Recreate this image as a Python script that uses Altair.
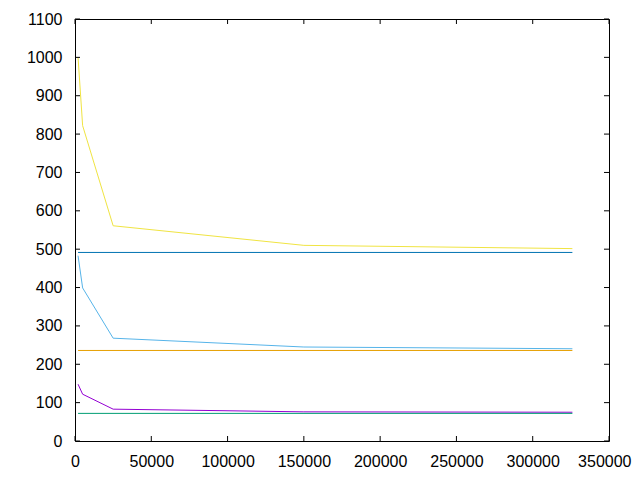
import altair as alt
import pandas as pd

# sample positions (x) shared by the decreasing series
x_pts = [2000, 5000, 25000, 150000, 326000]
purple_vals = [148, 122, 83, 76, 75]
lightblue_vals = [483, 399, 268, 245, 240.5]
yellow_vals = [1000, 822, 561, 510, 501.5]
# constant reference lines
const_x = [2000, 326000]
green_const = 72
orange_const = 236
darkblue_const = 491.5

x_ticks = [0, 50000, 100000, 150000, 200000, 250000, 300000, 350000]
y_ticks = [0, 100, 200, 300, 400, 500, 600, 700, 800, 900, 1000, 1100]

series_names = ["s1", "s2", "s3", "s4", "s5", "s6"]
series_colors = ["#9400d3", "#009e73", "#56b4e9", "#e69f00", "#f0e442", "#0072b2"]

rows = []
for xv, yv in zip(x_pts, purple_vals):
    rows.append({"s": "s1", "o": 1, "x": xv, "y": yv})
for xv in const_x:
    rows.append({"s": "s2", "o": 2, "x": xv, "y": green_const})
for xv, yv in zip(x_pts, lightblue_vals):
    rows.append({"s": "s3", "o": 3, "x": xv, "y": yv})
for xv in const_x:
    rows.append({"s": "s4", "o": 4, "x": xv, "y": orange_const})
for xv, yv in zip(x_pts, yellow_vals):
    rows.append({"s": "s5", "o": 5, "x": xv, "y": yv})
for xv in const_x:
    rows.append({"s": "s6", "o": 6, "x": xv, "y": darkblue_const})
df = pd.DataFrame(rows)

W, H = 534, 422
TL = 5

xscale = alt.Scale(domain=[0, 350000], nice=False, zero=False)
yscale = alt.Scale(domain=[0, 1100], nice=False, zero=False)

font = "Liberation Sans"

x_axis = alt.Axis(values=x_ticks, format="d", ticks=False, domain=False, grid=False,
                  labelFont=font, labelFontSize=16, labelColor="black",
                  labelPadding=12, labelFlush=False, labelOverlap=False,
                  labelAlign={"expr": "datum.value >= 350000 ? 'right' : 'center'"},
                  labelOffset={"expr": "datum.value >= 350000 ? 22 : 0"})
y_axis = alt.Axis(values=y_ticks, format="d", ticks=False, domain=False, grid=False,
                  labelFont=font, labelFontSize=16, labelColor="black",
                  labelPadding=13, labelOverlap=False, labelFlush=False)

lines = alt.Chart(df).mark_line(strokeWidth=1, clip=True).encode(
    x=alt.X("x:Q", scale=xscale, title=None, axis=x_axis),
    y=alt.Y("y:Q", scale=yscale, title=None, axis=y_axis),
    color=alt.Color("s:N", scale=alt.Scale(domain=series_names, range=series_colors), legend=None),
    order=alt.Order("x:Q"),
    detail="o:O",
)

xt = pd.DataFrame({"v": x_ticks})
yt = pd.DataFrame({"v": y_ticks})

xt_bottom = alt.Chart(xt).mark_rule(color="black", strokeWidth=1).encode(
    x=alt.X("v:Q", scale=xscale, title=None, axis=x_axis), y=alt.value(H), y2=alt.value(H - TL))
xt_top = alt.Chart(xt).mark_rule(color="black", strokeWidth=1).encode(
    x=alt.X("v:Q", scale=xscale, title=None, axis=x_axis), y=alt.value(0), y2=alt.value(TL))
yt_left = alt.Chart(yt).mark_rule(color="black", strokeWidth=1).encode(
    y=alt.Y("v:Q", scale=yscale, title=None, axis=y_axis), x=alt.value(0), x2=alt.value(TL))
yt_right = alt.Chart(yt).mark_rule(color="black", strokeWidth=1).encode(
    y=alt.Y("v:Q", scale=yscale, title=None, axis=y_axis), x=alt.value(W), x2=alt.value(W - TL))

chart = alt.layer(lines, xt_bottom, xt_top, yt_left, yt_right).properties(
    width=W, height=H,
    autosize=alt.AutoSizeParams(type="none"),
    padding={"left": 67, "top": 11, "right": 23, "bottom": 31},
    background="white",
).configure_view(stroke="black", strokeWidth=1)

chart.save("out.html", embed_options={"renderer": "svg", "actions": False})
